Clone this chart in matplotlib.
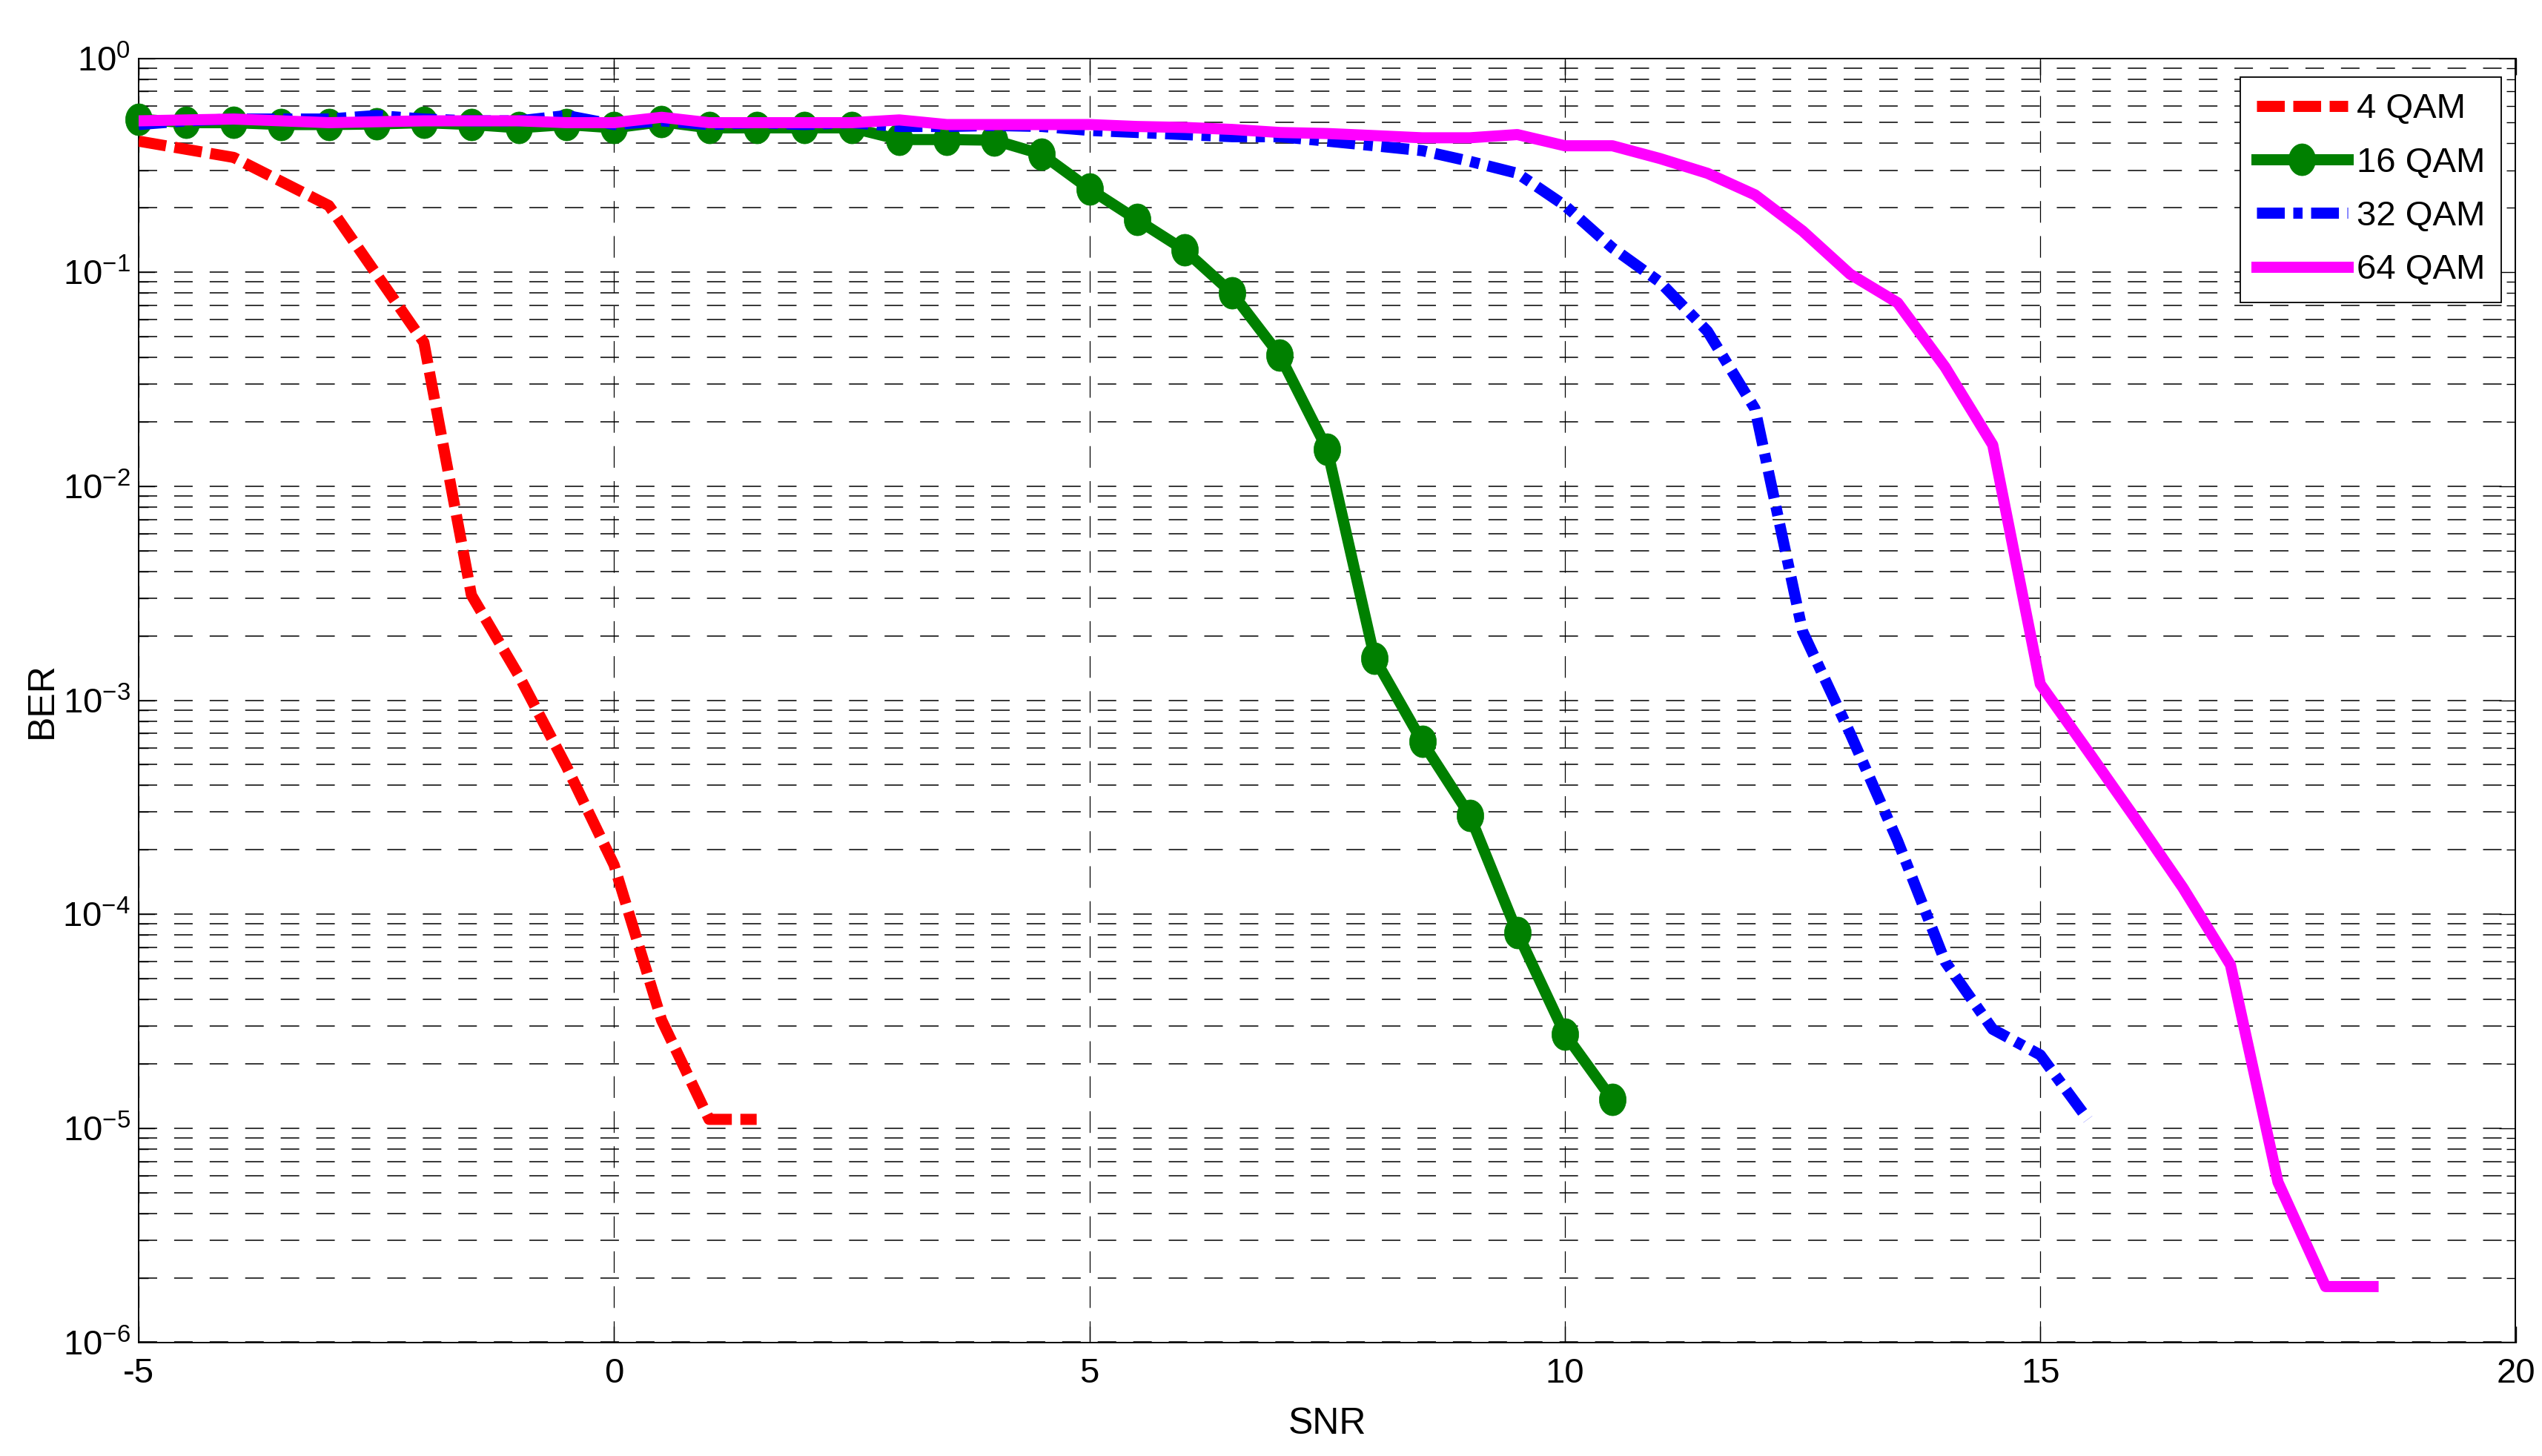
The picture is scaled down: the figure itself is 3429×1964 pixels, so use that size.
import numpy as np
import matplotlib
matplotlib.use('Agg')
import matplotlib.pyplot as plt
from matplotlib import font_manager
from matplotlib.path import Path
from matplotlib.ticker import FixedLocator, NullFormatter, FixedFormatter, LogFormatterSciNotation

_names = {f.name for f in font_manager.fontManager.ttflist}
if 'Liberation Sans Narrow' in _names:
    BASE_FONT, FS, LEG_FS = 'Liberation Sans Narrow', 38, 40
else:
    BASE_FONT, FS, LEG_FS = 'Liberation Sans', 34, 34

plt.rcParams['font.family'] = [BASE_FONT, 'DejaVu Sans']
plt.rcParams['mathtext.fontset'] = 'custom'
plt.rcParams['mathtext.rm'] = BASE_FONT
plt.rcParams['mathtext.it'] = BASE_FONT + ':italic'
plt.rcParams['mathtext.bf'] = BASE_FONT + ':bold'
plt.rcParams['axes.unicode_minus'] = False
plt.rcParams['lines.scale_dashes'] = False

# ---------------- data ----------------
snr_4qam = [-5, -4, -3, -2, -1.5, -1, -0.5, 0, 0.5, 1, 1.5]
ber_4qam = [0.41, 0.344, 0.205, 0.047, 3.1e-3, 1.3e-3, 4.9e-4, 1.7e-4, 3.2e-5, 1.1e-5, 1.1e-5]

snr_16qam = [-5, -4.5, -4, -3.5, -3, -2.5, -2, -1.5, -1, -0.5, 0, 0.5, 1, 1.5, 2, 2.5,
             3, 3.5, 4, 4.5, 5, 5.5, 6, 6.5, 7, 7.5, 8, 8.5, 9, 9.5, 10, 10.5]
ber_16qam = [0.52, 0.50, 0.50, 0.49, 0.49, 0.493, 0.50, 0.49, 0.473, 0.49, 0.473, 0.505,
             0.473, 0.473, 0.473, 0.473, 0.417, 0.417, 0.414, 0.356, 0.245, 0.176, 0.127,
             0.080, 0.041, 0.0149, 1.57e-3, 6.4e-4, 2.9e-4, 8.2e-5, 2.76e-5, 1.36e-5]

snr_32qam = [-5, -4.5, -4, -3.5, -3, -2.5, -2, -1.5, -1, -0.5, 0, 0.5, 1, 1.5, 2, 2.5,
             3, 3.5, 4, 4.5, 5, 5.5, 6, 6.5, 7, 7.5, 8, 8.5, 9, 9.5, 10, 10.5, 11, 11.5,
             12, 12.5, 13, 13.5, 14, 14.5, 15, 15.5]
ber_32qam = [0.49, 0.51, 0.52, 0.52, 0.52, 0.54, 0.52, 0.51, 0.51, 0.54, 0.49, 0.51,
             0.49, 0.50, 0.49, 0.50, 0.48, 0.48, 0.485, 0.48, 0.46, 0.45, 0.44, 0.43,
             0.43, 0.41, 0.39, 0.37, 0.33, 0.29, 0.205, 0.13, 0.09, 0.053, 0.023,
             2.1e-3, 7e-4, 2.2e-4, 6e-5, 2.9e-5, 2.2e-5, 1.1e-5]

snr_64qam = [-5, -4.5, -4, -3.5, -3, -2.5, -2, -1.5, -1, -0.5, 0, 0.5, 1, 1.5, 2, 2.5,
             3, 3.5, 4, 4.5, 5, 5.5, 6, 6.5, 7, 7.5, 8, 8.5, 9, 9.5, 10, 10.5, 11, 11.5,
             12, 12.5, 13, 13.5, 14, 14.5, 15, 15.5, 16, 16.5, 17, 17.5, 18, 18.5]
ber_64qam = [0.51, 0.515, 0.52, 0.51, 0.50, 0.505, 0.51, 0.51, 0.51, 0.50, 0.50, 0.53,
             0.50, 0.50, 0.50, 0.50, 0.515, 0.49, 0.49, 0.49, 0.49, 0.48, 0.475, 0.465,
             0.45, 0.445, 0.435, 0.425, 0.425, 0.44, 0.39, 0.39, 0.34, 0.29, 0.23, 0.156,
             0.098, 0.072, 0.036, 0.0156, 1.19e-3, 5.8e-4, 2.8e-4, 1.33e-4, 5.8e-5,
             5.6e-6, 1.82e-6, 1.82e-6]

labels = ['4 QAM', '16 QAM', '32 QAM', '64 QAM']
x_ticks = [-5, 0, 5, 10, 15, 20]
x_ticklabels = ['-5', '0', '5', '10', '15', '20']
y_ticks = [1e-6, 1e-5, 1e-4, 1e-3, 1e-2, 1e-1, 1e0]
y_minor_subs = [2, 3, 4, 5, 6, 7, 8, 9]
x_label = 'SNR'
y_label = 'BER'

# ---------------- figure ----------------
W, H = 3430, 1964
fig = plt.figure(figsize=(W / 100, H / 100), dpi=100)
ax = fig.add_axes([187 / W, 1 - 1810.5 / H, 3206.5 / W, 1731.9 / H])

# slightly tall elliptical marker as in the reference
t = np.linspace(0, 2 * np.pi, 73)
ell = Path(np.column_stack([0.42 * np.cos(t), 0.5 * np.sin(t)]), closed=True)

lw = 10.8
ax.plot(snr_4qam, ber_4qam, color='#ff0000', lw=lw, linestyle=(0, (27, 8.3)),
        label=labels[0], zorder=3)
ax.plot(snr_16qam, ber_16qam, color='#008000', lw=lw, marker=ell, markersize=31,
        markerfacecolor='#008000', markeredgecolor='#008000', markeredgewidth=0.5,
        label=labels[1], zorder=4, clip_on=False)
ax.plot(snr_32qam, ber_32qam, color='#0000ff', lw=lw, linestyle=(0, (27, 8.3, 9, 8.3)),
        label=labels[2], zorder=5)
ax.plot(snr_64qam, ber_64qam, color='#ff00ff', lw=lw, label=labels[3], zorder=6)

ax.set_yscale('log')
ax.set_xlim(-5, 20)
ax.set_ylim(1e-6, 1)

ax.xaxis.set_major_locator(FixedLocator(x_ticks))
ax.xaxis.set_major_formatter(FixedFormatter(x_ticklabels))
ax.yaxis.set_major_locator(FixedLocator(y_ticks))
ax.yaxis.set_major_formatter(LogFormatterSciNotation())
ax.yaxis.set_minor_locator(FixedLocator([s * d for d in y_ticks[:-1] for s in y_minor_subs]))
ax.yaxis.set_minor_formatter(NullFormatter())

ax.set_axisbelow(True)
ax.yaxis.grid(True, which='both', color='black', linestyle=(0, (18, 16.5)), linewidth=1.1)
ax.xaxis.grid(True, which='major', color='black', linestyle=(0, (21, 13)), linewidth=0.9)

ax.tick_params(which='both', direction='in', top=True, right=True, labelsize=FS, width=1.0)
ax.tick_params(which='major', length=16)
ax.tick_params(which='minor', length=9)
ax.tick_params(axis='x', pad=15)
ax.tick_params(axis='y', pad=8)

for sp in ax.spines.values():
    sp.set_linewidth(1.4)
    sp.set_color('black')

ax.set_xlabel(x_label, fontsize=FS + 2)
ax.set_ylabel(y_label, fontsize=FS + 2)
ax.xaxis.set_label_coords(0.5, -0.0505)
ax.yaxis.set_label_coords(-0.0335, 0.5)

em = LEG_FS * 100 / 72.0           # font size in pixels
row_px = 72.7                      # row pitch in the reference legend
txt_h = 0.94 * em
leg = ax.legend(loc='upper right', bbox_to_anchor=(0.9939, 0.9856), borderaxespad=0,
                fontsize=LEG_FS, handlelength=123 / em, handletextpad=12 / em,
                labelspacing=(row_px - txt_h) / em,
                borderpad=(306 - (3 * row_px + txt_h)) / 2 / em,
                frameon=True, fancybox=False, framealpha=1)
leg.get_frame().set_edgecolor('black')
leg.get_frame().set_linewidth(1.3)

fig.savefig('out.png', dpi=100, facecolor='white')
